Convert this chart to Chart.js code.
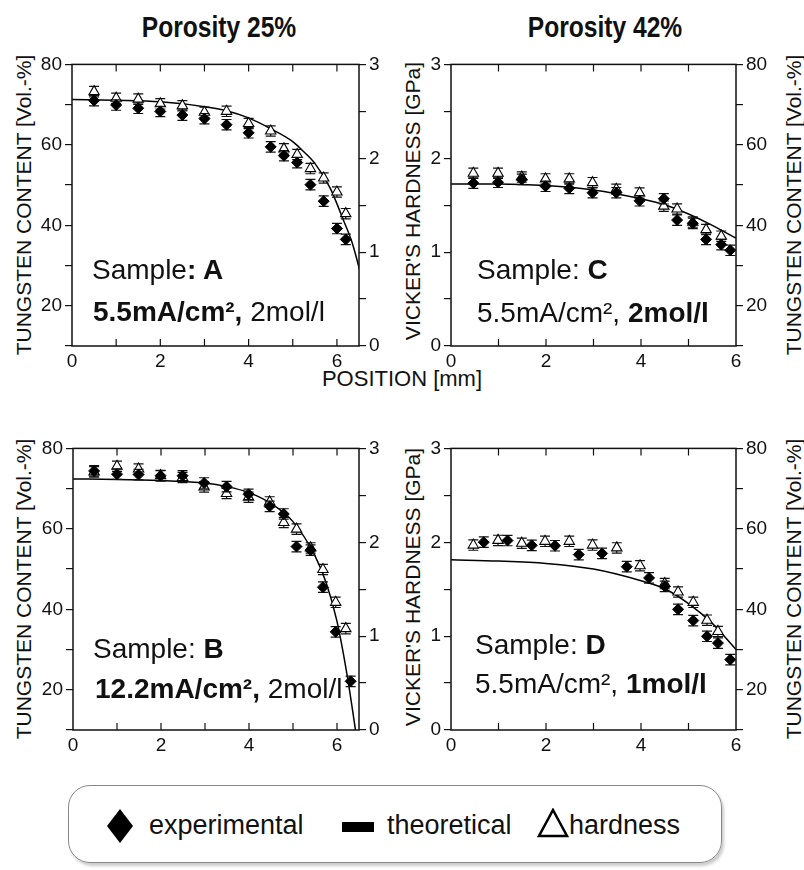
<!DOCTYPE html>
<html>
<head>
<meta charset="utf-8">
<script src="https://cdn.jsdelivr.net/npm/chart.js@4.4.1/dist/chart.umd.min.js"></script>
<style>
  body { margin: 0; width: 804px; height: 870px; background: #fff; position: relative; overflow: hidden;
         font-family: "Liberation Sans", Arial, sans-serif; color: #111; }
  canvas { position: absolute; }
  .t { position: absolute; white-space: nowrap; line-height: 1; }
  .title { font-weight: bold; font-size: 30px; transform: translateX(-50%) scaleX(0.82); }
  .vt { position: absolute; white-space: nowrap; font-size: 21px; line-height: 1;
        transform: translate(-50%, -50%) rotate(-90deg); }
  .smp { font-size: 28px; }
  .legend { position: absolute; left: 68px; top: 785px; width: 652px; height: 76px; border: 1.5px solid #888;
            border-radius: 22px; box-shadow: 2px 3px 3px #ccc; }
  .lg { position: absolute; font-size: 27px; line-height: 1; white-space: nowrap; }
</style>
</head>
<body>
<div class="t title" style="left:219px;top:12px">Porosity 25%</div>
<div class="t title" style="left:605px;top:12px">Porosity 42%</div>
<div class="t" style="left:402px;top:368px;font-size:22px;transform:translateX(-50%)">POSITION [mm]</div>

<div class="vt" style="left:23px;top:205px">TUNGSTEN CONTENT [Vol.-%]</div>
<div class="vt" style="left:23px;top:589px">TUNGSTEN CONTENT [Vol.-%]</div>
<div class="vt" style="left:412px;top:201px">VICKER'S HARDNESS [GPa]</div>
<div class="vt" style="left:412px;top:587px">VICKER'S HARDNESS [GPa]</div>
<div class="vt" style="left:793px;top:205px">TUNGSTEN CONTENT [Vol.-%]</div>
<div class="vt" style="left:793px;top:589px">TUNGSTEN CONTENT [Vol.-%]</div>

<canvas id="pA" width="399" height="336" style="left:0;top:50px"></canvas>
<canvas id="pC" width="380" height="336" style="left:406px;top:50px"></canvas>
<canvas id="pB" width="399" height="336" style="left:0;top:434px"></canvas>
<canvas id="pD" width="380" height="336" style="left:406px;top:434px"></canvas>

<div class="t smp" style="left:92px;top:256px">Sample<b>: A</b></div>
<div class="t smp" style="left:93px;top:298px"><b>5.5mA/cm², </b>2mol/l</div>
<div class="t smp" style="left:477px;top:256px">Sample: <b>C</b></div>
<div class="t smp" style="left:477px;top:299px">5.5mA/cm², <b>2mol/l</b></div>
<div class="t smp" style="left:93px;top:635px">Sample: <b>B</b></div>
<div class="t smp" style="left:95px;top:675px"><b>12.2mA/cm², </b>2mol/l</div>
<div class="t smp" style="left:475px;top:631px">Sample: <b>D</b></div>
<div class="t smp" style="left:475px;top:670px">5.5mA/cm², <b>1mol/l</b></div>

<div class="legend"></div>
<svg style="position:absolute;left:106px;top:808px" width="28" height="36"><polygon points="14,1 27,18 14,35 1,18" fill="#000"/></svg>
<div class="lg" style="left:149px;top:812px">experimental</div>
<div style="position:absolute;left:342px;top:822px;width:32px;height:10px;background:#000"></div>
<div class="lg" style="left:387px;top:812px">theoretical</div>
<svg style="position:absolute;left:537px;top:808px" width="32" height="30"><polygon points="16,2 30,28 2,28" fill="none" stroke="#000" stroke-width="2.5"/></svg>
<div class="lg" style="left:569px;top:812px">hardness</div>

<script>
// Sample A (porosity 25 %)
const xExpA = [0.5, 1, 1.5, 2, 2.5, 3, 3.5, 4, 4.5, 4.8, 5.1, 5.4, 5.7, 6, 6.2];
const expA = [71.0, 69.9, 69.1, 68.3, 67.4, 66.5, 65.0, 63.0, 59.5, 57.3, 55.6, 50.1, 46.0, 39.2, 36.5];
const xHardA = [0.5, 1, 1.5, 2, 2.5, 3, 3.5, 4, 4.5, 4.8, 5.1, 5.4, 5.7, 6, 6.2];
const hardA = [2.71, 2.64, 2.63, 2.58, 2.56, 2.49, 2.50, 2.37, 2.29, 2.10, 2.04, 1.89, 1.79, 1.64, 1.41];
const xTheoA = [0, 1, 2, 3, 3.5, 4, 4.5, 5, 5.2, 5.5, 5.85, 6.15, 6.35, 6.54];
const theoA = [71.3, 71.1, 70.7, 69.5, 68.5, 66.7, 64.0, 60.8, 58.8, 55.4, 49.2, 41.2, 35.5, 27.9];

// Sample B
const xExpB = [0.48, 1, 1.49, 1.99, 2.49, 2.98, 3.49, 3.99, 4.47, 4.79, 5.08, 5.4, 5.68, 5.97, 6.31];
const expB = [74.4, 73.6, 73.5, 73.2, 73.2, 71.4, 70.5, 68.6, 65.6, 63.7, 55.6, 54.7, 45.5, 34.4, 22.1];
const xHardB = [0.48, 1, 1.49, 1.99, 2.49, 2.98, 3.49, 3.99, 4.47, 4.79, 5.08, 5.4, 5.68, 5.97, 6.2];
const hardB = [2.75, 2.81, 2.78, 2.71, 2.69, 2.59, 2.52, 2.48, 2.43, 2.21, 2.14, 1.94, 1.71, 1.36, 1.08];
const xTheoB = [0, 1, 2, 3, 3.5, 4, 4.5, 5, 5.5, 5.75, 6, 6.25, 6.42];
const theoB = [72.4, 72.3, 72.0, 71.4, 70.5, 69.0, 66.3, 61.8, 53.3, 46.7, 37.0, 22.3, 10];

// Sample C (porosity 42 %)
const xExpC = [0.47, 0.99, 1.49, 1.99, 2.49, 2.98, 3.48, 3.97, 4.48, 4.76, 5.09, 5.37, 5.69, 5.88];
const expC = [50.5, 50.7, 51.4, 49.7, 49.2, 48.1, 48.1, 46.1, 46.6, 41.3, 40.5, 36.5, 35.2, 33.8];
const xHardC = [0.47, 0.99, 1.49, 1.99, 2.49, 2.98, 3.48, 3.97, 4.48, 4.76, 5.09, 5.37, 5.69];
const hardC = [1.84, 1.84, 1.80, 1.78, 1.78, 1.74, 1.67, 1.63, 1.49, 1.46, 1.32, 1.24, 1.17];
const xTheoC = [0, 1, 2, 3, 4, 4.5, 5, 5.5, 6];
const theoC = [50.3, 50.3, 49.9, 48.8, 46.6, 45.1, 42.8, 40.0, 36.8];

// Sample D
const xExpD = [0.69, 1.19, 1.7, 2.19, 2.69, 3.18, 3.7, 4.17, 4.5, 4.78, 5.1, 5.39, 5.62, 5.88];
const expD = [56.7, 57.1, 55.9, 55.8, 53.6, 53.9, 50.6, 47.8, 45.7, 40.0, 37.2, 33.3, 31.6, 27.5];
const xHardD = [0.47, 0.99, 1.49, 1.98, 2.49, 2.98, 3.49, 3.98, 4.5, 4.78, 5.1, 5.39, 5.62];
const hardD = [1.97, 2.02, 1.99, 2.01, 2.01, 1.97, 1.94, 1.75, 1.56, 1.47, 1.36, 1.17, 1.05];
const xTheoD = [0, 1, 2, 3, 4, 4.5, 5, 5.5, 6];
const theoD = [52.3, 52.0, 51.4, 50.0, 47.1, 45.1, 41.4, 36.5, 30.0];

// x tick positions (labelled every 2 mm)
const posTicks = [0, 1, 2, 3, 4, 5, 6];

const ERR_EXP = 1.3;   // Vol.-%
const ERR_HARD = 0.055; // GPa

const INK = '#111';
const tickFont = { family: '"Liberation Sans", Arial, sans-serif', size: 19 };

const pts = (xs, ys) => xs.map((x, i) => ({ x, y: ys[i] }));

// box + inward x ticks on top and bottom
const frame = {
    id: 'frame',
    afterDraw(chart) {
        const { ctx, chartArea: a, scales: { x } } = chart;
        ctx.save();
        ctx.strokeStyle = INK;
        ctx.lineWidth = 1.2;
        posTicks.forEach(v => {
            if (v <= x.min || v >= x.max) return;
            const px = x.getPixelForValue(v);
            ctx.beginPath();
            ctx.moveTo(px, a.top); ctx.lineTo(px, a.top + 7);
            ctx.moveTo(px, a.bottom); ctx.lineTo(px, a.bottom - 7);
            ctx.stroke();
        });
        ctx.lineWidth = 1.5;
        ctx.strokeRect(a.left, a.top, a.right - a.left, a.bottom - a.top);
        ctx.restore();
    }
};

const errorBars = {
    id: 'errorBars',
    beforeDatasetDraw(chart, args) {
        const ds = chart.data.datasets[args.index];
        if (!ds.errs) return;
        const ctx = chart.ctx, ys = chart.scales[ds.yAxisID];
        ctx.save();
        ctx.strokeStyle = INK;
        ctx.lineWidth = 1.2;
        args.meta.data.forEach((p, i) => {
            const v = ds.data[i].y, e = ds.errs[i];
            const t = ys.getPixelForValue(v + e), b = ys.getPixelForValue(v - e);
            ctx.beginPath();
            ctx.moveTo(p.x, t); ctx.lineTo(p.x, b);
            ctx.moveTo(p.x - 5, t); ctx.lineTo(p.x + 5, t);
            ctx.moveTo(p.x - 5, b); ctx.lineTo(p.x + 5, b);
            ctx.stroke();
        });
        ctx.restore();
    }
};

function tungstenAxis(position, width) {
    return {
        type: 'linear', position, min: 10, max: 80,
        ticks: { stepSize: 10, font: tickFont, color: INK, padding: 3,
                 callback: v => (v % 20 === 0 ? v : '') },
        grid: { drawOnChartArea: false, tickLength: 7, color: INK, lineWidth: 1.2 },
        border: { display: false },
        afterFit: s => { s.width = width; }
    };
}

function hardnessAxis(position, width) {
    return {
        type: 'linear', position, min: 0, max: 3,
        ticks: { stepSize: 0.5, font: tickFont, color: INK, padding: 3,
                 callback: v => (v % 1 === 0 ? v : '') },
        grid: { drawOnChartArea: false, tickLength: 7, color: INK, lineWidth: 1.2 },
        border: { display: false },
        afterFit: s => { s.width = width; }
    };
}

function panel(id, xMax, tungstenLeft, leftWidth, d) {
    const scales = {
        x: {
            type: 'linear', min: 0, max: xMax,
            afterBuildTicks: s => { s.ticks = posTicks.map(value => ({ value })); },
            ticks: { font: tickFont, color: INK, padding: 4, autoSkip: false, maxRotation: 0,
                     callback: v => (v % 2 === 0 ? v : '') },
            grid: { display: false, drawTicks: false },
            border: { display: false },
            afterFit: s => { s.height = 40; }
        },
        yW: tungstenLeft ? tungstenAxis('left', leftWidth) : tungstenAxis('right', 50),
        yH: tungstenLeft ? hardnessAxis('right', 40) : hardnessAxis('left', leftWidth)
    };

    new Chart(document.getElementById(id), {
        type: 'scatter',
        data: {
            datasets: [{
                label: 'experimental',
                data: pts(d.xExp, d.exp),
                errs: d.exp.map(() => ERR_EXP),
                yAxisID: 'yW',
                pointStyle: 'rectRot', pointRadius: 5.5,
                backgroundColor: '#000', borderColor: '#000', borderWidth: 1
            }, {
                label: 'hardness',
                data: pts(d.xHard, d.hard),
                errs: d.hard.map(() => ERR_HARD),
                yAxisID: 'yH',
                pointStyle: 'triangle', pointRadius: 6,
                backgroundColor: '#fff', borderColor: '#000', borderWidth: 1.1
            }, {
                label: 'theoretical',
                data: pts(d.xTheo, d.theo),
                yAxisID: 'yW',
                showLine: true, pointRadius: 0,
                borderColor: '#000', borderWidth: 1.5,
                cubicInterpolationMode: 'monotone'
            }]
        },
        options: {
            responsive: false,
            animation: false,
            devicePixelRatio: 1,
            layout: { padding: { top: 10, left: 0, right: 0, bottom: 0 } },
            plugins: { legend: { display: false }, tooltip: { enabled: false } },
            scales
        },
        plugins: [errorBars, frame]
    });
}

panel('pA', 6.5, true, 72, { xExp: xExpA, exp: expA, xHard: xHardA, hard: hardA, xTheo: xTheoA, theo: theoA });
panel('pB', 6.5, true, 73, { xExp: xExpB, exp: expB, xHard: xHardB, hard: hardB, xTheo: xTheoB, theo: theoB });
panel('pC', 6, false, 45, { xExp: xExpC, exp: expC, xHard: xHardC, hard: hardC, xTheo: xTheoC, theo: theoC });
panel('pD', 6, false, 45, { xExp: xExpD, exp: expD, xHard: xHardD, hard: hardD, xTheo: xTheoD, theo: theoD });
</script>
</body>
</html>
